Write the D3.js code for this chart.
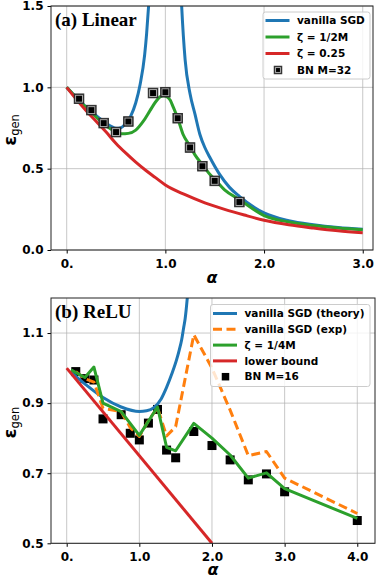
<!DOCTYPE html>
<html lang="en">
<head>
<meta charset="UTF-8">
<title>eps_gen vs alpha</title>
<script src="https://cdn.jsdelivr.net/npm/d3@7"></script>
<style>
  body { margin: 0; background: #fff; }
  svg text { font-family: "DejaVu Sans", sans-serif; fill: #000; }
  .tick text { font-size: 12px; font-weight: bold; }
  .tick line { stroke: #000; }
  .grid line { stroke: #b0b0b0; stroke-opacity: 0.7; stroke-width: 1; }
  .leg text { font-size: 10.5px; font-weight: bold; }
  .title { font-family: "Liberation Serif", "Times New Roman", serif; font-weight: bold; font-size: 19px; }
</style>
</head>
<body>
<script>
// ---- (a) Linear ----
var alphaSgdA1 = [0, 0.125, 0.25, 0.375, 0.45, 0.5, 0.55, 0.6, 0.65, 0.7, 0.745, 0.79, 0.81, 0.83, 0.845];
var sgdA1      = [1.0, 0.92, 0.85, 0.79, 0.76, 0.748, 0.752, 0.78, 0.825, 0.905, 1.02, 1.2, 1.33, 1.5, 1.65];
var alphaSgdA2 = [1.15, 1.165, 1.2, 1.25, 1.3, 1.35, 1.4, 1.45, 1.55, 1.65, 1.75, 2.0, 2.25, 2.5, 2.75, 3.0];
var sgdA2      = [1.7, 1.5, 1.17, 0.96, 0.835, 0.71, 0.63, 0.57, 0.465, 0.385, 0.33, 0.228, 0.18, 0.155, 0.138, 0.127];
var alphaZetaA = [0, 0.125, 0.25, 0.375, 0.5, 0.557, 0.625, 0.7, 0.775, 0.844, 0.9, 0.95, 0.98, 1.02, 1.05, 1.08, 1.125, 1.18, 1.25, 1.3, 1.375, 1.45, 1.5, 1.6, 1.75, 2.0, 2.25, 2.5, 2.75, 3.0];
var zetaA      = [1.0, 0.918, 0.845, 0.775, 0.725, 0.714, 0.717, 0.737, 0.79, 0.857, 0.91, 0.943, 0.949, 0.94, 0.92, 0.878, 0.81, 0.71, 0.64, 0.585, 0.525, 0.465, 0.435, 0.37, 0.31, 0.212, 0.172, 0.15, 0.135, 0.124];
var alphaRedA  = [0, 0.1, 0.2, 0.3, 0.4, 0.5, 0.6, 0.7, 0.8, 0.9, 1.0, 1.2, 1.4, 1.6, 1.8, 2.0, 2.25, 2.5, 2.75, 3.0];
var redA       = [1.0, 0.925, 0.855, 0.79, 0.725, 0.655, 0.595, 0.54, 0.49, 0.445, 0.40, 0.34, 0.29, 0.25, 0.215, 0.183, 0.155, 0.135, 0.118, 0.106];
var alphaBnA   = [0.125, 0.25, 0.375, 0.5, 0.625, 0.875, 1.0, 1.125, 1.25, 1.375, 1.5, 1.75];
var bnA        = [0.93, 0.86, 0.78, 0.725, 0.79, 0.965, 0.97, 0.81, 0.63, 0.515, 0.425, 0.295];
var xTicksA = [0, 1, 2, 3], xLabelsA = ["0.", "1.0", "2.0", "3.0"];
var yTicksA = [0, 0.5, 1.0, 1.5], yLabelsA = ["0.0", "0.5", "1.0", "1.5"];
var legendA = ["vanilla SGD", "\u03b6 = 1/2M", "\u03b6 = 0.25", "BN M=32"];

// ---- (b) ReLU ----
var alphaSgdB = [0.05, 0.25, 0.5, 0.75, 1.0, 1.1, 1.2, 1.3, 1.375, 1.45, 1.513, 1.55, 1.582, 1.61, 1.63, 1.66, 1.68];
var sgdB      = [0.99, 0.955, 0.916, 0.889, 0.876, 0.878, 0.887, 0.912, 0.945, 0.985, 1.024, 1.052, 1.08, 1.115, 1.14, 1.2, 1.25];
var alphaExpB = [0.125, 0.25, 0.375, 0.5, 0.75, 0.875, 1.0, 1.125, 1.25, 1.375, 1.5, 1.75, 2.0, 2.25, 2.5, 2.75, 3.0, 4.0];
var expB      = [0.99, 0.97, 0.96, 0.885, 0.876, 0.83, 0.805, 0.85, 0.887, 0.806, 0.833, 1.095, 1.0, 0.88, 0.75, 0.762, 0.686, 0.585];
var alphaZetaB = [0.06, 0.25, 0.375, 0.5, 0.75, 1.0, 1.25, 1.375, 1.5, 1.75, 2.0, 2.25, 2.5, 2.75, 3.0, 4.0];
var zetaB      = [0.995, 0.973, 1.003, 0.9, 0.876, 0.808, 0.889, 0.774, 0.764, 0.842, 0.8, 0.752, 0.686, 0.701, 0.656, 0.571];
var alphaLbB = [0, 2.0];
var lbB      = [1.0, 0.5];
var alphaBnB = [0.125, 0.25, 0.375, 0.5, 0.75, 0.875, 1.0, 1.125, 1.25, 1.375, 1.5, 1.75, 2.0, 2.25, 2.5, 2.75, 3.0, 4.0];
var bnB      = [0.99, 0.97, 0.966, 0.855, 0.867, 0.814, 0.795, 0.843, 0.882, 0.766, 0.744, 0.819, 0.779, 0.738, 0.681, 0.698, 0.647, 0.565];
var xTicksB = [0, 1, 2, 3, 4], xLabelsB = ["0.", "1.0", "2.0", "3.0", "4.0"];
var yTicksB = [0.5, 0.7, 0.9, 1.1], yLabelsB = ["0.5", "0.7", "0.9", "1.1"];
var legendB = ["vanilla SGD (theory)", "vanilla SGD (exp)", "\u03b6 = 1/4M", "lower bound", "BN M=16"];

var BLUE = "#1f77b4", ORANGE = "#ff7f0e", GREEN = "#2ca02c", RED = "#d62728";

function zip(xs, ys) { return xs.map(function (v, i) { return [v, ys[i]]; }); }

var svg = d3.select("body").append("svg").attr("width", 378).attr("height", 578);

function panel(o) {
    var x = o.x, y = o.y;
    var x0 = x.range()[0], x1 = x.range()[1], yb = y.range()[0], yt = y.range()[1];
    var g = svg.append("g");

    g.append("clipPath").attr("id", o.id).append("rect")
        .attr("x", x0).attr("y", yt).attr("width", x1 - x0).attr("height", yb - yt);

    // grid
    var grid = g.append("g").attr("class", "grid");
    grid.selectAll(".gx").data(o.xTicks).enter().append("line")
        .attr("x1", d => x(d)).attr("x2", d => x(d)).attr("y1", yt).attr("y2", yb);
    grid.selectAll(".gy").data(o.yTicks).enter().append("line")
        .attr("x1", x0).attr("x2", x1).attr("y1", d => y(d)).attr("y2", d => y(d));

    var ax = g.append("g").attr("transform", "translate(0," + yb + ")")
        .call(d3.axisBottom(x).tickValues(o.xTicks).tickFormat((d, i) => o.xLabels[i]).tickSize(3.5).tickPadding(5.5));
    ax.select(".domain").remove();
    var ay = g.append("g").attr("transform", "translate(" + x0 + ",0)")
        .call(d3.axisLeft(y).tickValues(o.yTicks).tickFormat((d, i) => o.yLabels[i]).tickSize(3.5).tickPadding(4));
    ay.select(".domain").remove();

    var plot = g.append("g").attr("clip-path", "url(#" + o.id + ")");
    o.draw(plot, x, y);

    g.append("rect").attr("x", x0).attr("y", yt).attr("width", x1 - x0).attr("height", yb - yt)
        .attr("fill", "none").attr("stroke", "#222").attr("stroke-width", 1);

    // labels
    g.append("text").attr("class", "title").attr("x", x0 + 4).attr("y", yt + 20).text(o.title);
    g.append("text").attr("x", (x0 + x1) / 2).attr("y", yb + o.alphaDy).attr("text-anchor", "middle")
        .style("font-size", "16px").style("font-weight", "bold").style("font-style", "italic").text("\u03b1");
    var yl = g.append("text").attr("transform", "translate(16," + ((yt + yb) / 2 + 2) + ") rotate(-90)")
        .attr("text-anchor", "middle");
    yl.append("tspan").style("font-size", "18px").style("font-weight", "bold").text("\u03b5");
    yl.append("tspan").attr("dy", 3).style("font-size", "11.5px").text("gen");

    // legend
    var L = o.legend;
    var lg = g.append("g").attr("class", "leg");
    lg.append("rect").attr("x", L.x).attr("y", L.y).attr("width", L.w).attr("height", L.h)
        .attr("rx", 2.5).attr("fill", "#fff").attr("fill-opacity", 0.8).attr("stroke", "#ccc").attr("stroke-width", 1);
    L.items.forEach(function (it, i) {
        var cy = L.y + L.top + i * L.step;
        if (it.type === "line") {
            lg.append("line").attr("x1", L.x + 2.5).attr("x2", L.x + 26.5).attr("y1", cy).attr("y2", cy)
                .attr("stroke", it.color).attr("stroke-width", 3)
                .attr("stroke-dasharray", it.dash || null);
        } else {
            it.marker(lg, L.x + 15, cy, 7.5);
        }
        lg.append("text").attr("x", L.x + 34).attr("y", cy).attr("dy", "0.36em").text(it.label);
    });
}

function squareA(sel, cx, cy, s) {
    sel.append("rect").attr("x", cx - s / 2).attr("y", cy - s / 2).attr("width", s).attr("height", s)
        .attr("fill", "#000").attr("stroke", "#333").attr("stroke-width", 1);
    sel.append("rect").attr("x", cx - s / 2 + 1.3).attr("y", cy - s / 2 + 1.3).attr("width", s - 2.6).attr("height", s - 2.6)
        .attr("fill", "none").attr("stroke", "#aaa").attr("stroke-width", 1);
}
function squareB(sel, cx, cy, s) {
    sel.append("rect").attr("x", cx - s / 2).attr("y", cy - s / 2).attr("width", s).attr("height", s)
        .attr("fill", "#000");
}

function path(plot, x, y, data, color, curve, dash) {
    plot.append("path").datum(data)
        .attr("d", d3.line().x(d => x(d[0])).y(d => y(d[1])).curve(curve))
        .attr("fill", "none").attr("stroke", color).attr("stroke-width", 3)
        .attr("stroke-linejoin", "round")
        .attr("stroke-dasharray", dash || null);
}

panel({
    id: "clipA", title: "(a) Linear", alphaDy: 33,
    x: d3.scaleLinear().domain([-0.159, 3.104]).range([51, 373]),
    y: d3.scaleLinear().domain([0, 1.5]).range([250, 6]),
    xTicks: xTicksA, xLabels: xLabelsA, yTicks: yTicksA, yLabels: yLabelsA,
    draw: function (plot, x, y) {
        path(plot, x, y, zip(alphaSgdA1, sgdA1), BLUE, d3.curveMonotoneX);
        path(plot, x, y, zip(alphaSgdA2, sgdA2), BLUE, d3.curveMonotoneX);
        path(plot, x, y, zip(alphaZetaA, zetaA), GREEN, d3.curveMonotoneX);
        path(plot, x, y, zip(alphaRedA, redA), RED, d3.curveMonotoneX);
        zip(alphaBnA, bnA).forEach(function (d) { squareA(plot, x(d[0]), y(d[1]), 9.5); });
    },
    legend: {
        x: 263, y: 12, w: 107, h: 67, top: 8.5, step: 16.5,
        items: [
            { type: "line", color: BLUE, label: legendA[0] },
            { type: "line", color: GREEN, label: legendA[1] },
            { type: "line", color: RED, label: legendA[2] },
            { type: "marker", marker: squareA, label: legendA[3] }
        ]
    }
});

panel({
    id: "clipB", title: "(b) ReLU", alphaDy: 31.5,
    x: d3.scaleLinear().domain([-0.216, 4.244]).range([51, 375]),
    y: d3.scaleLinear().domain([0.5, 1.2]).range([543.3, 298]),
    xTicks: xTicksB, xLabels: xLabelsB, yTicks: yTicksB, yLabels: yLabelsB,
    draw: function (plot, x, y) {
        zip(alphaBnB, bnB).forEach(function (d) { squareB(plot, x(d[0]), y(d[1]), 9); });
        path(plot, x, y, zip(alphaSgdB, sgdB), BLUE, d3.curveMonotoneX);
        path(plot, x, y, zip(alphaExpB, expB), ORANGE, d3.curveLinear, "9,4.5");
        path(plot, x, y, zip(alphaZetaB, zetaB), GREEN, d3.curveLinear);
        path(plot, x, y, zip(alphaLbB, lbB), RED, d3.curveLinear);
    },
    legend: {
        x: 210.5, y: 304.5, w: 159.5, h: 82, top: 9, step: 15.8,
        items: [
            { type: "line", color: BLUE, label: legendB[0] },
            { type: "line", color: ORANGE, dash: "9,4.5", label: legendB[1] },
            { type: "line", color: GREEN, label: legendB[2] },
            { type: "line", color: RED, label: legendB[3] },
            { type: "marker", marker: squareB, label: legendB[4] }
        ]
    }
});
</script>
</body>
</html>
